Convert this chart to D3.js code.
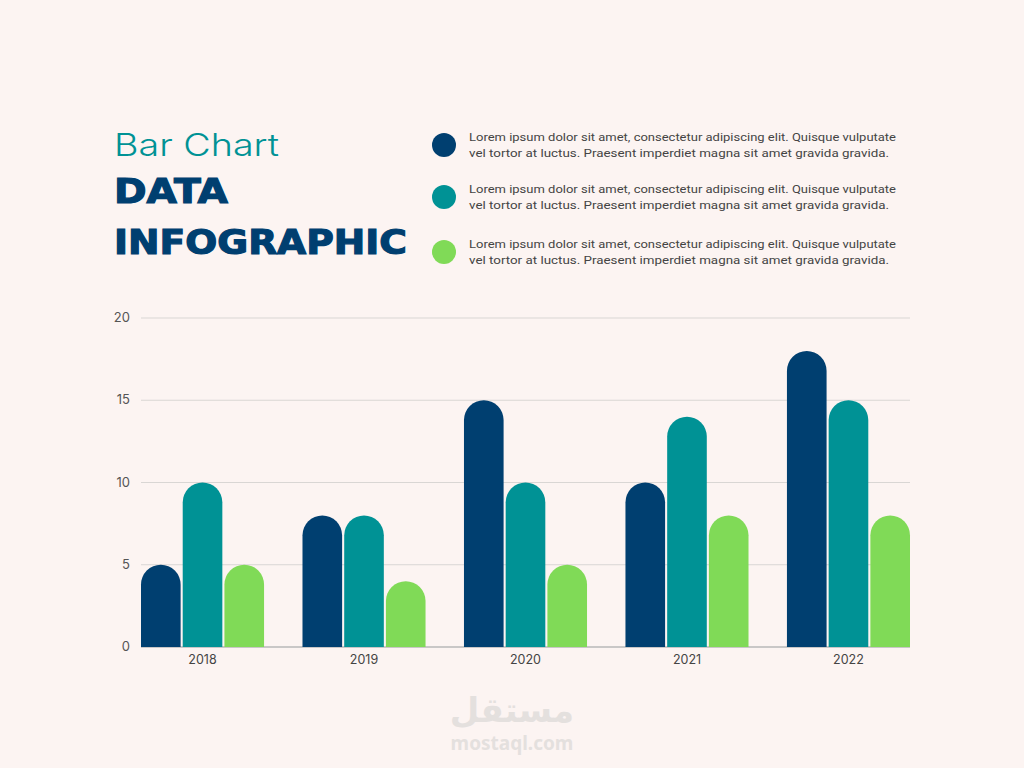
<!DOCTYPE html>
<html><head><meta charset="utf-8">
<script src="https://cdn.jsdelivr.net/npm/d3@7"></script>
<style>body{margin:0;background:#fcf4f2;}</style>
</head><body>
<svg id="c" width="1024" height="768"></svg>
<script>
const years = ["2018","2019","2020","2021","2022"];
const seriesNames = ["A","B","C"];
const seriesA = [5,8,15,10,18];
const seriesB = [10,8,10,14,15];
const seriesC = [5,4,5,8,8];
const yTicks = [0,5,10,15,20];
const colors = ["#003f70","#009295","#80da57"];
const legendText = ["Lorem ipsum dolor sit amet, consectetur adipiscing elit. Quisque vulputate","vel tortor at luctus. Praesent imperdiet magna sit amet gravida gravida."];

const svg = d3.select("#c");
svg.append("rect").attr("width",1024).attr("height",768).attr("fill","#fcf4f2");

svg.append("text").attr("x",114).attr("y",156).attr("font-family","Inter, sans-serif").attr("font-weight",300)
  .attr("font-size",31).attr("fill","#009295").attr("textLength",165).attr("lengthAdjust","spacingAndGlyphs").text("Bar Chart");
["DATA","INFOGRAPHIC"].forEach((t,i)=>svg.append("text").attr("x",114).attr("y",[203,254][i])
  .attr("font-family","'DejaVu Sans', sans-serif").attr("font-weight",900).attr("font-size",34)
  .attr("fill","#003f70").attr("stroke","#003f70").attr("stroke-width",1.2)
  .attr("textLength", i? 293:114).attr("lengthAdjust","spacingAndGlyphs").text(t));

const legY=[145,197,252];
colors.forEach((c,i)=>{
  svg.append("circle").attr("cx",444).attr("cy",legY[i]).attr("r",12).attr("fill",c);
  legendText.forEach((t,j)=>svg.append("text").attr("x",469).attr("y",legY[i]-4+j*16)
    .attr("font-family","'Liberation Sans Narrow','Roboto',sans-serif").attr("font-size",11.5).attr("fill","#444")
    .attr("textLength",j?420:427).attr("lengthAdjust","spacingAndGlyphs").text(t));
});

const x = d3.scaleBand().domain(years).range([141,910]).paddingInner(0.238).paddingOuter(0);
const xs = d3.scaleBand().domain(seriesNames).range([0,x.bandwidth()]).paddingInner(0.05);
const y = d3.scaleLinear().domain([0,20]).range([647,318]);

const g = svg.append("g");
yTicks.forEach(t=>{
  g.append("line").attr("x1",141).attr("x2",910).attr("y1",y(t)).attr("y2",y(t))
   .attr("stroke",t===0?"#b9b9b9":"#d9d6d4").attr("stroke-width",t===0?1.5:1);
  g.append("text").attr("x",130).attr("y",y(t)+4).attr("text-anchor","end")
   .attr("font-family","Inter, sans-serif").attr("font-size",13).attr("fill","#555").text(t);
});
const data=[seriesA,seriesB,seriesC];
const w = xs.bandwidth(), r = w/2;
data.forEach((vals,si)=>{
  vals.forEach((v,i)=>{
    const x0 = x(years[i])+xs(seriesNames[si]), y0=y(v), yb=y(0);
    const p = `M${x0},${yb}L${x0},${y0+r}A${r},${r} 0 0 1 ${x0+w},${y0+r}L${x0+w},${yb}Z`;
    g.append("path").attr("d",p).attr("fill",colors[si]);
  });
});
years.forEach(yr=>g.append("text").attr("x",x(yr)+x.bandwidth()/2).attr("y",664)
  .attr("text-anchor","middle").attr("font-family","Inter, sans-serif").attr("font-size",12.5).attr("fill","#444").text(yr));

svg.append("text").attr("x",512).attr("y",722).attr("text-anchor","middle").attr("font-family","'Noto Sans', 'DejaVu Sans', sans-serif")
  .attr("font-weight",700).attr("font-size",34).attr("fill","#e4e0de").text("مستقل");
svg.append("text").attr("x",512).attr("y",750).attr("text-anchor","middle").attr("font-family","'Noto Sans', sans-serif")
  .attr("font-weight",700).attr("font-size",19).attr("fill","#e4e0de").text("mostaql.com");
</script>
</body></html>
